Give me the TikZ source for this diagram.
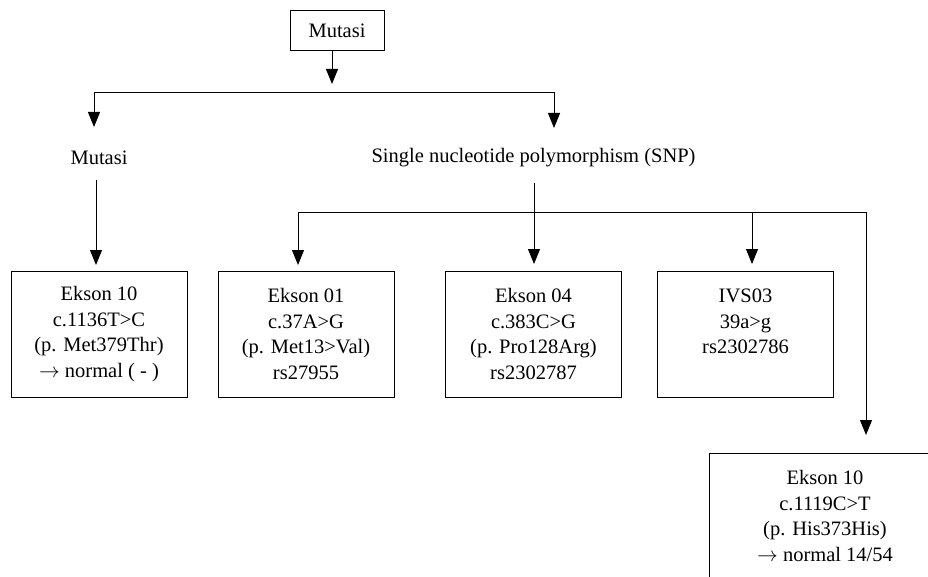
\documentclass[tikz,border=0pt]{standalone}
\usepackage{fontspec}
\setmainfont{Liberation Serif}
\usetikzlibrary{arrows.meta}
\begin{document}
\begin{tikzpicture}[x=1pt,y=-1pt,
  font=\fontsize{20.5}{25.5}\selectfont,
  box/.style={draw, line width=1pt, align=center, minimum width=176pt, minimum height=126pt, inner sep=0pt},
  topbox/.style={draw, line width=1pt, minimum width=94pt, minimum height=39.5pt, inner sep=0pt},
  lbl/.style={inner sep=0pt},
  conn/.style={line width=1pt},
  arr/.style={conn, -{Triangle[length=15pt,width=12pt]}}]
\clip (0,0) rectangle (928,577);
\fill[white] (0,0) rectangle (928,577);
% nodes
\node[topbox] (top) at (337,30.5) {Mutasi};
\node[lbl] (mutL) at (99,158) {Mutasi};
\node[lbl] (snp) at (533.5,158) {Single nucleotide polymorphism (SNP)};
\node[box] (e10) at (99,334) {Ekson 10\\c.1136T>C\\(p. Met379Thr)\\$\rightarrow$ normal ( - )};
\node[box] (e01) at (306,334) {Ekson 01\\c.37A>G\\(p. Met13>Val)\\rs27955};
\node[box] (e04) at (533.5,334) {Ekson 04\\c.383C>G\\(p. Pro128Arg)\\rs2302787};
\node[box] (ivs) at (745.5,334) {IVS03\\39a>g\\rs2302786\\\mbox{}};
\node[box, minimum width=232pt] (e10b) at (825,516) {Ekson 10\\c.1119C>T\\(p. His373His)\\$\rightarrow$ normal 14/54};
% coordinates
\coordinate (t1) at (332,84);
\coordinate (b1) at (94,93);
\coordinate (b2) at (554,93);
\coordinate (b1e) at (94,127);
\coordinate (b2e) at (554,128);
\coordinate (m0) at (96,180);
\coordinate (m1) at (96,265);
\coordinate (s0) at (534,183);
\coordinate (bl) at (298,213);
\coordinate (br) at (866,213);
\coordinate (j3) at (752,213);
\coordinate (a1) at (298,265);
\coordinate (a2) at (534,264);
\coordinate (a3) at (752,264);
\coordinate (a4) at (866,435);
% connectors
\draw[arr] (top.south -| t1) -- (t1);
\draw[arr] (b2) -- (b1) -- (b1e);
\draw[arr] (b1) -- (b2) -- (b2e);
\draw[arr] (m0) -- (m1);
\draw[arr] (br) -- (bl) -- (a1);
\draw[arr] (bl) -- (br) -- (a4);
\draw[arr] (s0) -- (a2);
\draw[arr] (j3) -- (a3);
\end{tikzpicture}
\end{document}
